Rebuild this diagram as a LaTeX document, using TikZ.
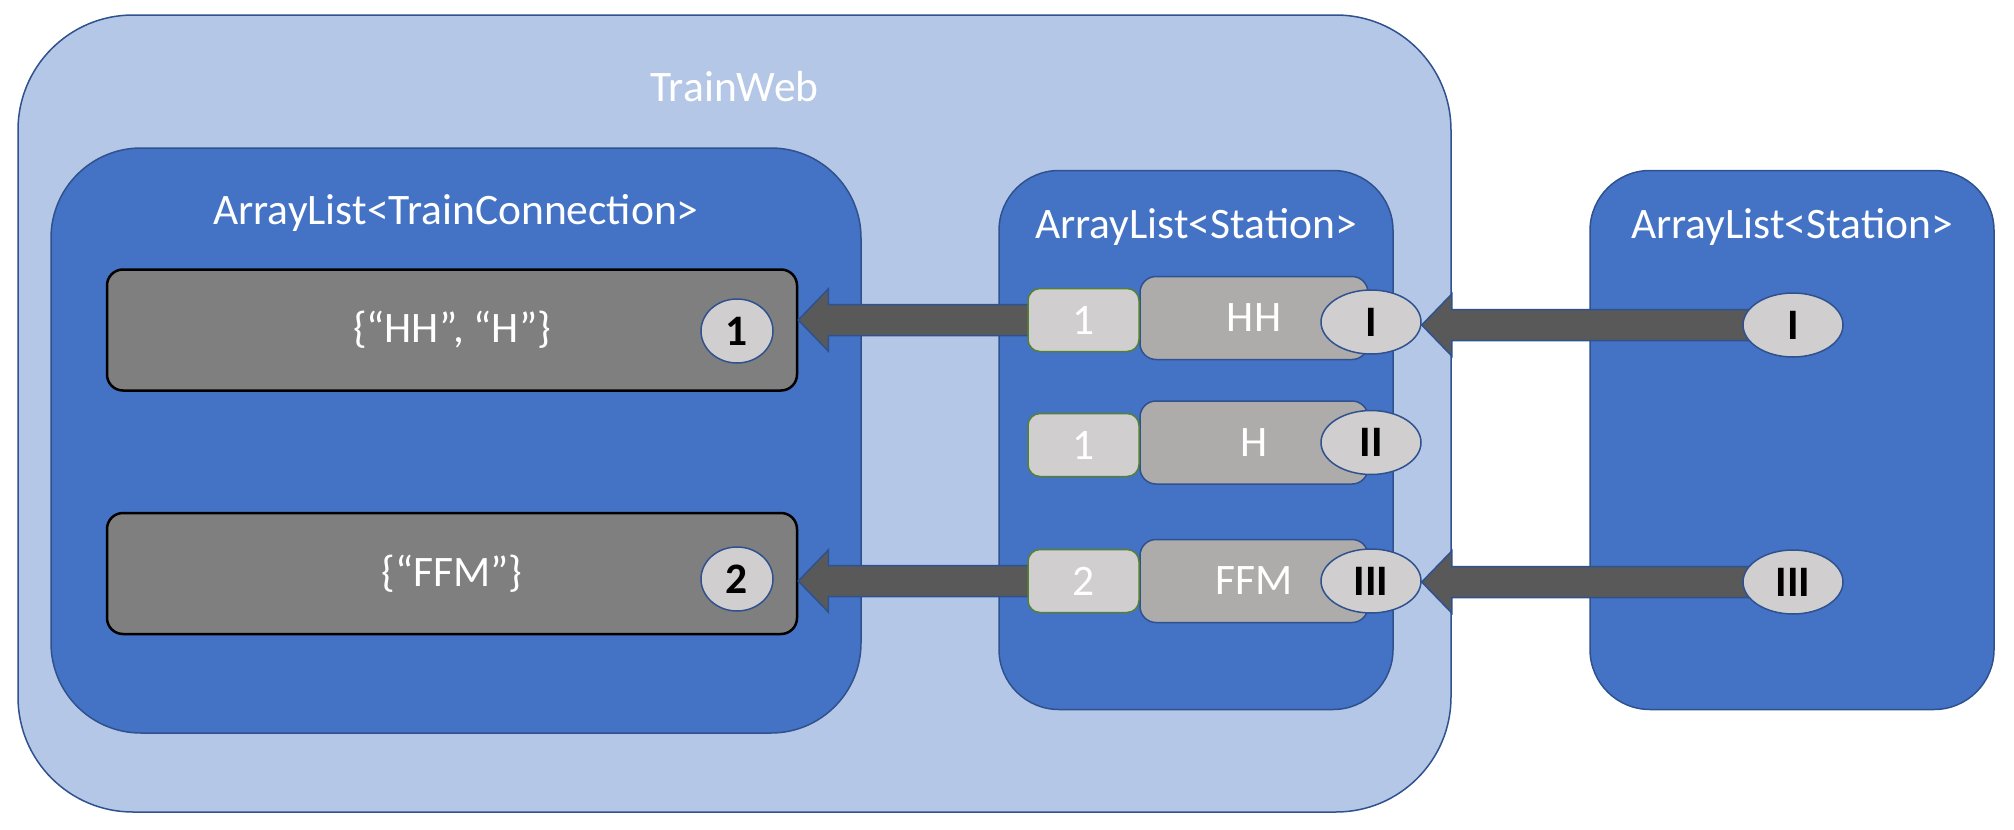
\documentclass[tikz,border=0pt]{standalone}
\usepackage{fontspec}
\setmainfont{Carlito}
\usetikzlibrary{shapes.geometric, calc, positioning}
\definecolor{webfill}{HTML}{B4C7E7}
\definecolor{edgeblue}{HTML}{2F528F}
\definecolor{listblue}{HTML}{4472C4}
\definecolor{connfill}{HTML}{7F7F7F}
\definecolor{tokenfill}{HTML}{D0CECE}
\definecolor{stationfill}{HTML}{AEABAB}
\definecolor{arrowfill}{HTML}{595959}
\definecolor{indexgreen}{HTML}{548235}
\pgfdeclarelayer{front}
\pgfsetlayers{main,front}
\newcommand{\bigfont}{\fontsize{43.5}{52}\selectfont}
\tikzset{
  container/.style={draw=edgeblue, line width=1.5pt, fill=listblue, inner sep=0pt},
  title/.style={text=white, font=\bigfont, inner sep=0pt, anchor=base},
  connbox/.style={draw=black, line width=2.5pt, fill=connfill, rounded corners=16pt, minimum width=690pt, minimum height=121pt, text=white, font=\bigfont},
  idcircle/.style={ellipse, draw=edgeblue, line width=1.5pt, fill=tokenfill, minimum width=72pt, minimum height=64pt, inner sep=0pt, font=\bigfont\bfseries},
  stationbox/.style={draw=edgeblue, line width=1.5pt, fill=stationfill, rounded corners=16pt, minimum width=228pt, minimum height=83pt, text=white, font=\bigfont},
  indexbox/.style={draw=indexgreen, line width=1.5pt, fill=tokenfill, rounded corners=12pt, minimum width=111pt, minimum height=63pt, text=white, font=\bigfont},
  stationid/.style={ellipse, draw=edgeblue, line width=1.5pt, fill=tokenfill, minimum width=100pt, minimum height=64pt, inner sep=0pt, font=\bigfont\bfseries},
  arrowshape/.style={draw=edgeblue, line width=1.5pt, fill=arrowfill},
}
% block arrow: tail at #1, tip on the east side of #2
\newcommand{\blockarrow}[2]{%
  \path[arrowshape] (#2.east |- #1.center) -- ++(30,-31) -- ++(0,15.5) -- ($(#1.center)+(0,-15.5)$)
    -- ++(0,31) -- ($(#2.east |- #1.center)+(30,15.5)$) -- ++(0,15.5) -- cycle;}

\begin{document}
\begin{tikzpicture}[x=1pt, y=-1pt]
    \useasboundingbox (0,0) rectangle (2014,830);

    % Outer object
    \node[container, fill=webfill, rounded corners=115pt, minimum width=1433pt, minimum height=797pt] (web) at (734.5,413.5) {};
    \node[title] (webtitle) at ($(web.north)+(0,87)$) {TrainWeb};

    % List of connections
    \node[container, rounded corners=90pt, minimum width=810pt, minimum height=585pt] (conns) at (456,440.5) {};
    \node[title] (connstitle) at ($(conns.north)+(0,77)$) {ArrayList<TrainConnection>};
    \node[connbox] (conn1) at (452,330) {\{“HH”, “H”\}};
    \node[connbox] (conn2) at (452,573.5) {\{“FFM”\}};

    % List of stations inside TrainWeb
    \node[container, rounded corners=60pt, minimum width=394pt, minimum height=539pt] (stations) at (1196,440) {};
    \node[title] (stationstitle) at ($(stations.north)+(0,69)$) {ArrayList<Station>};
    \node[stationbox] (st1) at (1254,318) {HH};
    \node[stationbox] (st2) at (1254,442.5) {H};
    \node[stationbox] (st3) at (1254,581) {FFM};

    % Outside list of stations
    \node[container, rounded corners=60pt, minimum width=404pt, minimum height=539pt] (lookup) at (1792,440) {};
    \node[title] (lookuptitle) at ($(lookup.north)+(0,69)$) {ArrayList<Station>};

    \begin{pgfonlayer}{front}
    \node[idcircle] (cid1) at (737,331) {1};
    \node[idcircle] (cid2) at (737,579) {2};
    \node[indexbox] (idx1) at (1083.5,320) {1};
    \node[indexbox] (idx2) at (1083.5,445) {1};
    \node[indexbox] (idx3) at (1083.5,581) {2};
    \node[stationid] (sid1) at (1371,322) {I};
    \node[stationid] (sid2) at (1371,442.5) {II};
    \node[stationid] (sid3) at (1371,581) {III};
    \node[stationid] (look1) at (1793,325) {I};
    \node[stationid] (look3) at (1793,582) {III};
    \end{pgfonlayer}

    % Arrows
    \blockarrow{idx1}{conn1}
    \blockarrow{idx3}{conn2}
    \blockarrow{look1}{sid1}
    \blockarrow{look3}{sid3}
\end{tikzpicture}
\end{document}
